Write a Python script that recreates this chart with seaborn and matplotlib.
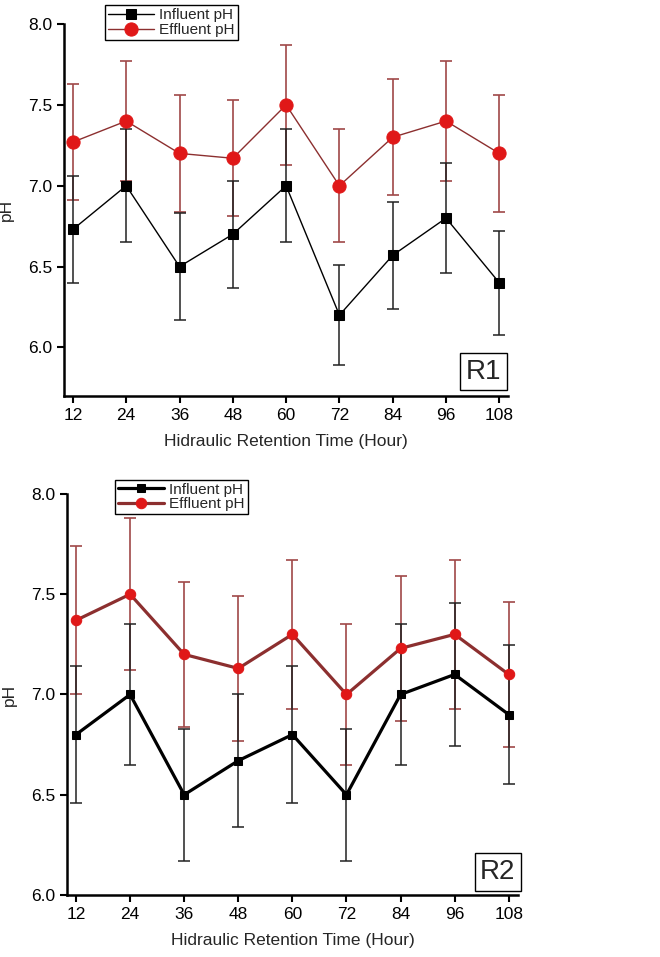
import numpy as np
import pandas as pd
import matplotlib
matplotlib.use("Agg")
import matplotlib.pyplot as plt
import seaborn as sns

sns.set_style("ticks")
plt.rcParams['font.family'] = ['Liberation Sans', 'DejaVu Sans']

hrt = [12, 24, 36, 48, 60, 72, 84, 96, 108]

r1_influent = [6.73, 7.00, 6.50, 6.70, 7.00, 6.20, 6.57, 6.80, 6.40]
r1_influent_err = [0.33, 0.35, 0.33, 0.33, 0.35, 0.31, 0.33, 0.34, 0.32]
r1_effluent = [7.27, 7.40, 7.20, 7.17, 7.50, 7.00, 7.30, 7.40, 7.20]
r1_effluent_err = [0.36, 0.37, 0.36, 0.36, 0.37, 0.35, 0.36, 0.37, 0.36]

r2_influent = [6.80, 7.00, 6.50, 6.67, 6.80, 6.50, 7.00, 7.10, 6.90]
r2_influent_err = [0.34, 0.35, 0.33, 0.33, 0.34, 0.33, 0.35, 0.355, 0.345]
r2_effluent = [7.37, 7.50, 7.20, 7.13, 7.30, 7.00, 7.23, 7.30, 7.10]
r2_effluent_err = [0.37, 0.38, 0.36, 0.36, 0.37, 0.35, 0.36, 0.37, 0.36]

series_names = ["Influent pH", "Effluent pH"]
x_ticks = [12, 24, 36, 48, 60, 72, 84, 96, 108]
y_ticks = [6.0, 6.5, 7.0, 7.5, 8.0]
xlabel = "Hidraulic Retention Time (Hour)"
ylabel = "pH"

fig = plt.figure(figsize=(6.6, 9.57), dpi=100)
ax1 = fig.add_axes([0.097, 0.5862, 0.673, 0.3887])
ax2 = fig.add_axes([0.1015, 0.0648, 0.683, 0.419])

line_red = "#8c2f2f"
marker_red = "#e01818"
err_red = "#a04848"


def draw(ax, inf, inf_err, eff, eff_err, lw, ms_sq, ms_ci, label, ylim, leg_anchor, box_pos):
    df = pd.DataFrame({
        "HRT": hrt * 2,
        "pH": inf + eff,
        "err": inf_err + eff_err,
        "Series": [series_names[0]] * len(hrt) + [series_names[1]] * len(hrt),
    })
    d_inf = df[df.Series == series_names[0]]
    d_eff = df[df.Series == series_names[1]]
    ax.errorbar(d_eff.HRT, d_eff.pH, yerr=d_eff.err, fmt='none', ecolor=err_red,
                elinewidth=1.2, capsize=4.5, capthick=1.2, zorder=2)
    ax.errorbar(d_inf.HRT, d_inf.pH, yerr=d_inf.err, fmt='none', ecolor="#222222",
                elinewidth=1.1, capsize=4.5, capthick=1.1, zorder=2)
    sns.lineplot(data=d_inf, x="HRT", y="pH", ax=ax, color="black", lw=lw,
                 marker="s", markersize=ms_sq, markeredgecolor="black",
                 markerfacecolor="black", label=series_names[0], zorder=4)
    sns.lineplot(data=d_eff, x="HRT", y="pH", ax=ax, color=line_red, lw=lw,
                 marker="o", markersize=ms_ci, markeredgecolor=marker_red,
                 markerfacecolor=marker_red, label=series_names[1], zorder=3)
    ax.set_xlim(10, 110)
    ax.set_ylim(*ylim)
    ax.set_xticks(x_ticks)
    ax.set_xticklabels([str(v) for v in x_ticks])
    ax.set_yticks(y_ticks)
    ax.set_yticklabels([f"{v:.1f}" for v in y_ticks])
    ax.set_xlabel(xlabel, fontsize=12.5, labelpad=8)
    ax.set_ylabel(ylabel, fontsize=12.5, labelpad=10)
    for s in ["top", "right"]:
        ax.spines[s].set_visible(False)
    for s in ["left", "bottom"]:
        ax.spines[s].set_linewidth(1.8)
        ax.spines[s].set_color("black")
    ax.tick_params(axis="both", direction="out", length=5, width=1.5,
                   labelsize=12.5, colors="black")
    leg = ax.legend(loc="upper left", bbox_to_anchor=leg_anchor, frameon=True,
                    fancybox=False, framealpha=1, edgecolor="black",
                    fontsize=11, handlelength=3.0, borderpad=0.2,
                    labelspacing=0.05, handletextpad=0.35, borderaxespad=0)
    leg.get_frame().set_linewidth(1.0)
    ax.text(box_pos[0], box_pos[1], label, transform=ax.transAxes, fontsize=20,
            ha="right", va="bottom",
            bbox=dict(boxstyle="square,pad=0.2", facecolor="white",
                      edgecolor="black", linewidth=1.0))


draw(ax1, r1_influent, r1_influent_err, r1_effluent, r1_effluent_err,
     1.0, 7.5, 9.5, "R1", (5.7, 8.0), (0.092, 1.05), (0.985, 0.03))
draw(ax2, r2_influent, r2_influent_err, r2_effluent, r2_effluent_err,
     2.3, 6, 7.5, "R2", (6.0, 8.0), (0.106, 1.036), (0.995, 0.025))

fig.savefig("out.png", dpi=100)
